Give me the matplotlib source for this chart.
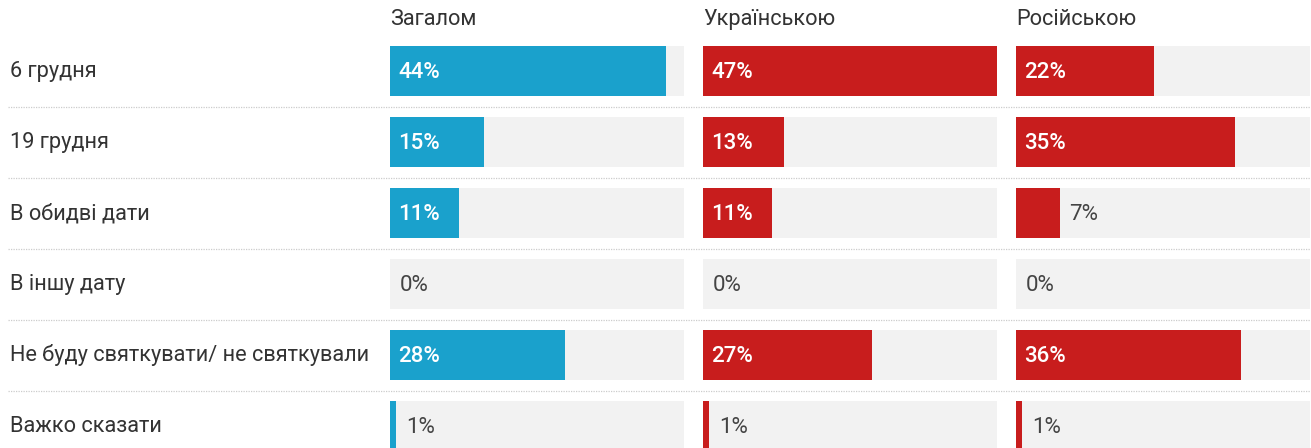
import matplotlib
matplotlib.use("Agg")
import matplotlib.pyplot as plt

categories = ["6 грудня", "19 грудня", "В обидві дати", "В іншу дату",
              "Не буду святкувати/ не святкували", "Важко сказати"]
groups = ["Загалом", "Українською", "Російською"]
total = [44, 15, 11, 0, 28, 1]
ukrainian = [47, 13, 11, 0, 27, 1]
russian = [22, 35, 7, 0, 36, 1]
series = [total, ukrainian, russian]
colors = ["#1aa1cc", "#c81d1d", "#c81d1d"]

W, H = 1311, 448
plt.rcParams['font.family'] = ['Roboto', 'DejaVu Sans']
fig = plt.figure(figsize=(W / 100, H / 100), dpi=100)

c0, step = 71.25, 71.0
ytop = (0 - c0) / step
ybot = (H - c0) / step
bar_h = 50 / step
fs = 15.7

# background axes for labels and separators
bg = fig.add_axes([0, 0, 1, 1])
bg.set_xlim(0, W)
bg.set_ylim(ybot, ytop)
bg.axis("off")
for i, cat in enumerate(categories):
    bg.text(10, i + 6 / step, cat, fontsize=fs, color="#333333",
            va="baseline", ha="left")
for i in range(len(categories) - 1):
    bg.hlines(i + 0.5, 8, W, colors="#cccccc", linestyles=(0, (1, 1)), linewidth=0.9)

lefts = [390, 703, 1016]
track_w = 294.3
vmax = max(max(s) for s in series)
for g, (name, vals, col, lx) in enumerate(zip(groups, series, colors, lefts)):
    ax = fig.add_axes([lx / W, 0, track_w / W, 1])
    ax.set_xlim(0, vmax)
    ax.set_ylim(ybot, ytop)
    ax.axis("off")
    ax.patch.set_alpha(0)
    ys = list(range(len(categories)))
    ax.barh(ys, [vmax] * len(vals), height=bar_h, left=0, color="#f2f2f2", zorder=1)
    ax.barh(ys, vals, height=bar_h, left=0, color=col, zorder=2)
    ax.text(0, (25 - c0) / step, name, fontsize=fs, color="#333333",
            va="baseline", ha="left")
    px_per = track_w / vmax
    for i, v in enumerate(vals):
        yb = i + 7 / step
        if v * px_per > 55:
            ax.annotate(f"{v}%", (0, yb), xytext=(5.8, 0), textcoords="offset points",
                        va="baseline", ha="left", color="white", fontsize=16,
                        fontweight="medium", zorder=3)
        else:
            ax.annotate(f"{v}%", (v, yb), xytext=(6.8, 0), textcoords="offset points",
                        va="baseline", ha="left", color="#444444", fontsize=16,
                        zorder=3)

fig.savefig("out.png", dpi=100)
